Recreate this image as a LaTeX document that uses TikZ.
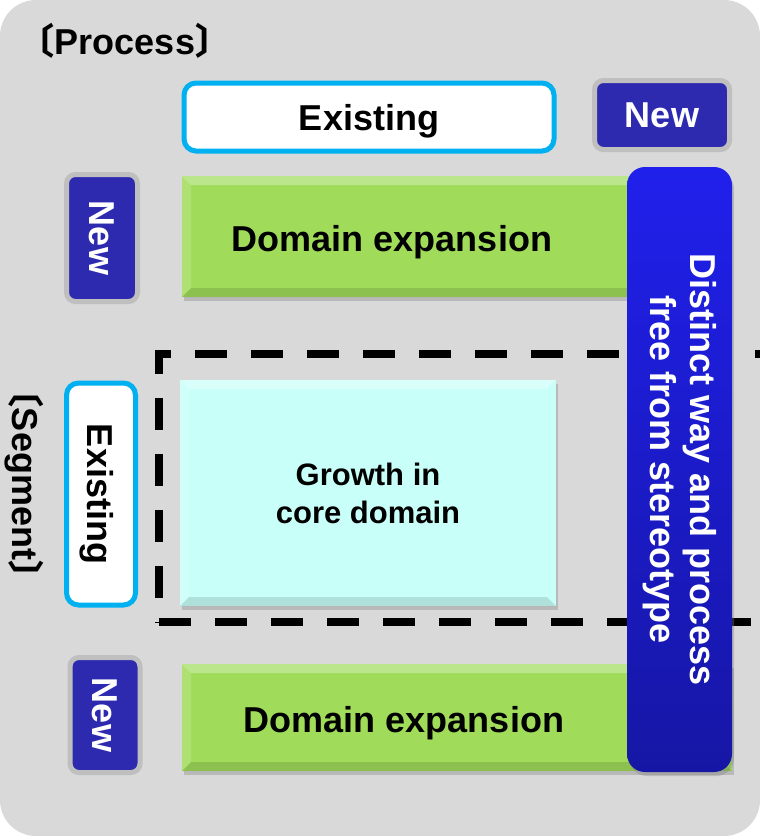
\documentclass[tikz,border=0pt]{standalone}
\usepackage{fontspec}
\setmainfont{Liberation Sans}
\newfontfamily\cjkfont{Noto Sans CJK JP}
\usetikzlibrary{shadows}
\definecolor{gridbg}{HTML}{D9D9D9}
\definecolor{gridcyan}{HTML}{00B0F0}
\definecolor{gridgreen}{HTML}{A0DC5A}
\definecolor{gridmint}{HTML}{C8FFF8}
\definecolor{gridnavy}{HTML}{2D2AB0}
\definecolor{gridblue}{HTML}{2020EC}
\definecolor{gridframe}{HTML}{BFBFBF}
\newcommand{\bigfont}{\fontsize{36}{40}\selectfont\bfseries}
\newcommand{\midfont}{\fontsize{31}{38}\selectfont\bfseries}

\begin{document}
\begin{tikzpicture}[x=1pt, y=-1pt,
  oldbox/.style={draw=gridcyan, line width=5pt, rounded corners=12pt, fill=white,
    inner sep=0pt, text depth=0pt, font=\bigfont},
  newbox/.style={draw=gridframe, line width=5pt, rounded corners=9pt, fill=gridnavy,
    text=white, inner sep=0pt, text depth=0pt, font=\bigfont},
  areabox/.style={inner sep=0pt, drop shadow={opacity=0.35, shadow xshift=2pt, shadow yshift=-4pt}},
  bevel/.style={path picture={
    \fill[white, opacity=0.3] (path picture bounding box.north west) -- (path picture bounding box.north east)
      -- ([xshift=-9pt, yshift=-9pt]path picture bounding box.north east)
      -- ([xshift=9pt, yshift=-9pt]path picture bounding box.north west) -- cycle;
    \fill[white, opacity=0.15] (path picture bounding box.north west)
      -- ([xshift=9pt, yshift=-9pt]path picture bounding box.north west)
      -- ([xshift=9pt, yshift=9pt]path picture bounding box.south west)
      -- (path picture bounding box.south west) -- cycle;
    \fill[black, opacity=0.12] (path picture bounding box.south west) -- (path picture bounding box.south east)
      -- ([xshift=-9pt, yshift=9pt]path picture bounding box.south east)
      -- ([xshift=9pt, yshift=9pt]path picture bounding box.south west) -- cycle;}},
  greenbox/.style={areabox, bevel, fill=gridgreen},
  axislabel/.style={font=\bigfont, inner sep=0pt},
  dashline/.style={line width=8pt, dash pattern=on 32pt off 24pt}]
  % frame
  \fill[gridbg, rounded corners=36pt] (0,0) rectangle (760,836);
  \useasboundingbox (0,0) rectangle (760,836);

  % axis titles
  \node[axislabel] (process) at (125,41) {{\cjkfont 〔}Process{\cjkfont 〕}};
  \node[axislabel, rotate=-90] (segment) at (24,484) {{\cjkfont 〔}Segment{\cjkfont 〕}};

  % headers
  \node[oldbox, minimum width=370pt, minimum height=68pt] (procold) at (369,117) {Existing};
  \node[newbox, minimum width=135pt, minimum height=69pt] (procnew) at (662,115) {New};
  \node[newbox, rotate=-90, minimum width=127pt, minimum height=71pt] (segnewa) at (102,238) {New};
  \node[oldbox, rotate=-90, minimum width=222pt, minimum height=69pt] (segold) at (101,494) {Existing};
  \node[newbox, rotate=-90, minimum width=115pt, minimum height=70pt] (segnewb) at (105,715) {New};

  % dashed core area
  \draw[dashline, dash phase=31.5pt] (159,622) -- (159,353.5) -- (764,353.5);
  \draw[dashline] (159,622) -- (764,622);

  % cells
  \node[greenbox, minimum width=508pt, minimum height=121pt,
    label={[font=\bigfont, text depth=0pt, xshift=-44pt, yshift=-2pt]center:Domain expansion}] (expanda) at (436,236.5) {};
  \node[areabox, bevel, fill=gridmint, minimum width=376pt, minimum height=226pt,
    align=center, font=\midfont] (growth) at (368,493) {Growth in\\core domain};
  \node[greenbox, minimum width=550pt, minimum height=107pt,
    label={[font=\bigfont, text depth=0pt, xshift=-53pt, yshift=-2pt]center:Domain expansion}] (expandb) at (457,717.5) {};

  % new way bar
  \node[areabox, rotate=-90, rounded corners=18pt, top color=gridblue, bottom color=gridblue!70!black,
    minimum width=605pt, minimum height=105pt, text=white, align=center,
    font=\bigfont] (newway) at (679.5,469.5)
    {Distinct way and process\\free from stereotype};
\end{tikzpicture}
\end{document}
